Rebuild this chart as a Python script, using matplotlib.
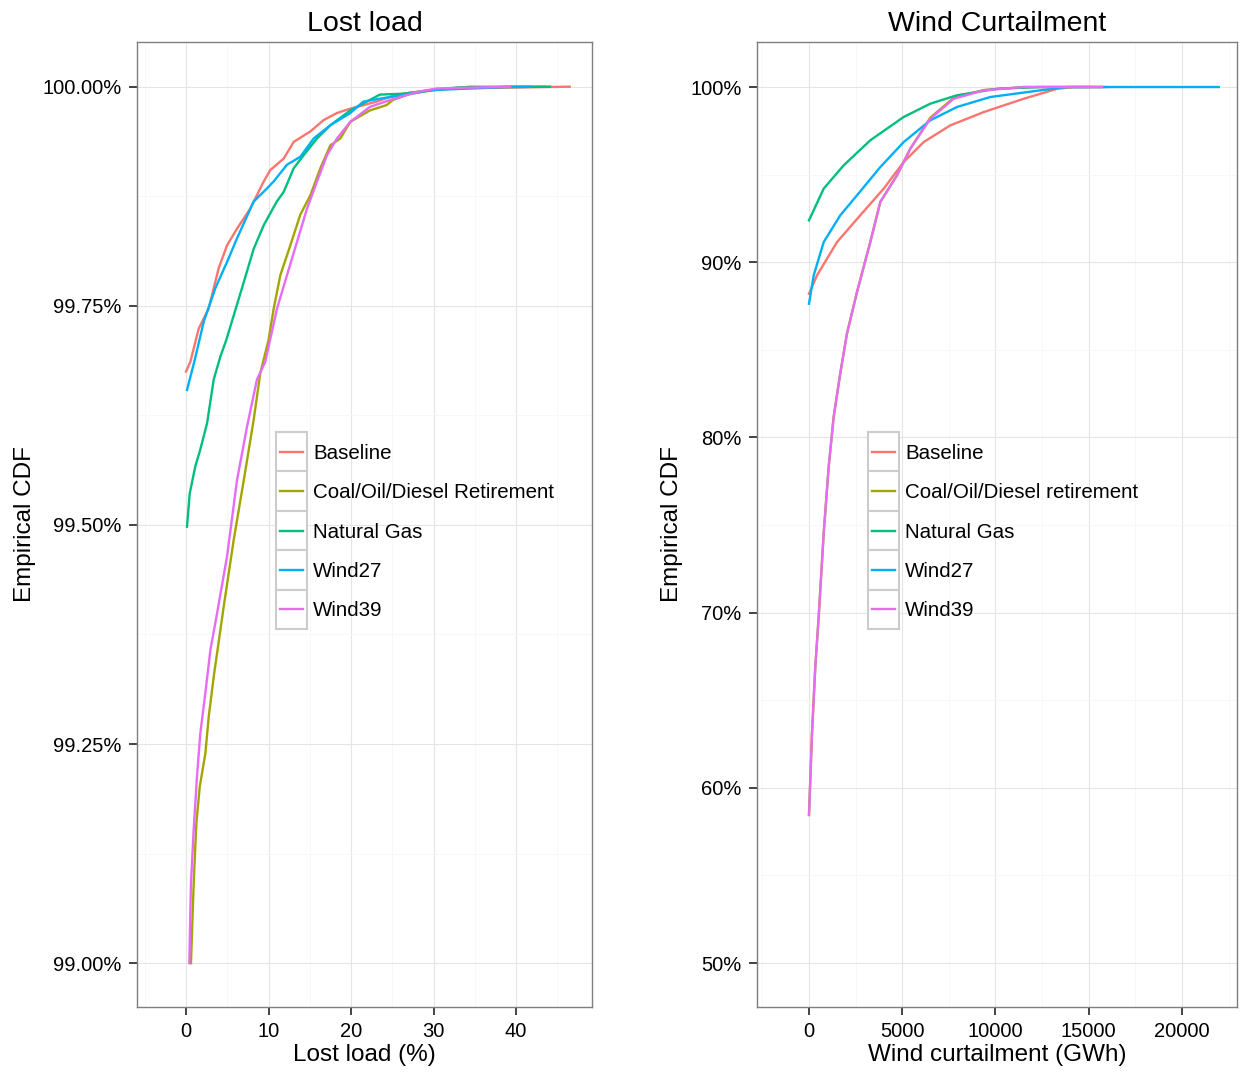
import matplotlib
matplotlib.use("Agg")
import matplotlib.pyplot as plt
from matplotlib.patches import Rectangle
from matplotlib.lines import Line2D
import numpy as np

plt.rcParams['font.family'] = ['Liberation Sans', 'DejaVu Sans']

# series names and ggplot default hue colours
names_left = ['Baseline', 'Coal/Oil/Diesel Retirement', 'Natural Gas', 'Wind27', 'Wind39']
names_right = ['Baseline', 'Coal/Oil/Diesel retirement', 'Natural Gas', 'Wind27', 'Wind39']
colors = ['#F8766D', '#A3A500', '#00BF7D', '#00B0F6', '#E76BF3']

# ---- Lost load ECDF (x = lost load %, y = cumulative %) ----
ll_base_x = [0, 0.52, 1.54, 2.75, 3.96, 4.97, 6.18, 7.79, 9.42, 10.22, 11.84, 13.05, 15.07,
             16.69, 18.3, 19.92, 23.1, 25.5, 29.6, 32.0, 46.5]
ll_base_y = [99.675, 99.686, 99.724, 99.747, 99.793, 99.819, 99.838, 99.861, 99.892, 99.905,
             99.918, 99.937, 99.949, 99.962, 99.970, 99.975, 99.983, 99.991, 99.996, 99.998, 100.0]

ll_coal_x = [0.6, 0.93, 1.25, 1.66, 2.34, 2.75, 3.36, 4.57, 5.78, 7.0, 8.2, 9.0, 10.0, 10.63,
             11.43, 12.64, 13.85, 15.07, 16.28, 17.49, 18.7, 19.92, 22.3, 24.3, 25.1, 27.2,
             30.0, 34.4, 43.5]
ll_coal_y = [99.0, 99.091, 99.159, 99.201, 99.239, 99.281, 99.327, 99.407, 99.483, 99.551,
             99.620, 99.673, 99.711, 99.747, 99.785, 99.819, 99.854, 99.876, 99.907, 99.933,
             99.941, 99.960, 99.973, 99.979, 99.985, 99.992, 99.996, 100.0, 100.0]

ll_gas_x = [0.12, 0.45, 1.13, 1.73, 2.55, 3.36, 4.16, 4.88, 5.78, 7.0, 8.2, 9.42, 11.0, 11.84,
            13.05, 14.27, 15.88, 17.49, 19.92, 21.5, 23.5, 26.3, 29.6, 32.8, 44.1]
ll_gas_y = [99.498, 99.536, 99.567, 99.586, 99.616, 99.666, 99.692, 99.711, 99.739, 99.777,
            99.815, 99.842, 99.869, 99.880, 99.907, 99.922, 99.941, 99.956, 99.973, 99.981,
            99.991, 99.992, 99.996, 99.999, 100.0]

ll_w27_x = [0.12, 1.0, 2.15, 3.55, 4.97, 6.18, 8.2, 9.82, 10.63, 12.24, 13.85, 15.48, 17.49,
            19.92, 21.5, 23.9, 26.75, 29.6, 39.3, 41.7]
ll_w27_y = [99.654, 99.686, 99.732, 99.770, 99.800, 99.827, 99.869, 99.884, 99.892, 99.911,
            99.920, 99.941, 99.956, 99.970, 99.983, 99.987, 99.991, 99.996, 100.0, 100.0]

ll_w39_x = [0.4, 0.6, 0.93, 1.33, 1.73, 2.34, 2.95, 3.76, 4.97, 6.18, 7.39, 8.6, 9.6, 11.03,
            12.24, 13.45, 14.67, 15.88, 17.09, 18.3, 19.92, 22.3, 24.8, 28.0, 30.4, 39.3]
ll_w39_y = [99.0, 99.091, 99.152, 99.213, 99.262, 99.308, 99.357, 99.399, 99.464, 99.551,
            99.612, 99.666, 99.686, 99.747, 99.785, 99.823, 99.861, 99.892, 99.922, 99.941,
            99.960, 99.977, 99.985, 99.994, 99.998, 100.0]

# ---- Wind curtailment ECDF (x = GWh, y = cumulative %) ----
wc_base_x = [0, 429, 1501, 2751, 4005, 5078, 6150, 7576, 9367, 11512, 13298, 14193, 16000]
wc_base_y = [88.20, 89.25, 91.15, 92.68, 94.20, 95.72, 96.86, 97.81, 98.57, 99.33, 99.90, 100.0, 100.0]

wc_coal_x = [0, 161, 338, 520, 788, 1056, 1324, 1678, 2038, 2574, 3287, 3823, 4718, 5432,
             6504, 7759, 9367, 11512, 15700]
wc_coal_y = [58.45, 63.11, 66.91, 69.77, 74.53, 78.33, 81.18, 83.66, 85.94, 88.30, 91.15,
             93.44, 94.96, 96.48, 98.25, 99.38, 99.83, 100.0, 100.0]

wc_gas_x = [0, 788, 1860, 3287, 5078, 6504, 7936, 10080, 12400, 15000]
wc_gas_y = [92.39, 94.20, 95.53, 96.96, 98.29, 99.05, 99.53, 99.90, 100.0, 100.0]

wc_w27_x = [0, 252, 788, 1678, 2574, 3823, 5078, 6504, 7936, 9721, 12402, 13834, 21970]
wc_w27_y = [87.63, 89.25, 91.15, 92.68, 93.82, 95.43, 96.86, 98.10, 98.86, 99.43, 99.81, 100.0, 100.0]

wc_w39_x = [0, 161, 338, 520, 788, 1056, 1324, 1678, 2038, 2574, 3287, 3823, 4718, 5432,
            6504, 7759, 9367, 11512, 15710]
wc_w39_y = [58.45, 63.11, 66.91, 69.77, 74.53, 78.33, 81.18, 83.66, 85.94, 88.30, 91.15,
            93.44, 94.96, 96.48, 98.19, 99.33, 99.81, 100.0, 100.0]

left_series = [(ll_base_x, ll_base_y), (ll_coal_x, ll_coal_y), (ll_gas_x, ll_gas_y),
               (ll_w27_x, ll_w27_y), (ll_w39_x, ll_w39_y)]
right_series = [(wc_base_x, wc_base_y), (wc_coal_x, wc_coal_y), (wc_gas_x, wc_gas_y),
                (wc_w27_x, wc_w27_y), (wc_w39_x, wc_w39_y)]

ll_yticks = [99.0, 99.25, 99.5, 99.75, 100.0]
ll_xticks = [0, 10, 20, 30, 40]
wc_yticks = [50, 60, 70, 80, 90, 100]
wc_xticks = [0, 5000, 10000, 15000, 20000]

W, H = 1243, 1074
fig = plt.figure(figsize=(W / 100, H / 100), dpi=100)


def px_axes(x0, y0, x1, y1):
    return fig.add_axes([x0 / W, 1 - y1 / H, (x1 - x0) / W, (y1 - y0) / H])


def style(ax, xt, yt, xminor, yminor, ylabels, title, xlabel):
    ax.set_xticks(xt)
    ax.set_yticks(yt)
    ax.set_xticks(xminor, minor=True)
    ax.set_yticks(yminor, minor=True)
    ax.set_yticklabels(ylabels)
    ax.grid(which='major', color='#E5E5E5', linewidth=0.8)
    ax.grid(which='minor', color='#F7F7F7', linewidth=0.6)
    ax.set_axisbelow(True)
    for s in ax.spines.values():
        s.set_color('#7F7F7F')
        s.set_linewidth(1.0)
    ax.tick_params(which='major', length=6, width=1.2, color='#222222',
                   labelsize=14.5, labelcolor='black', pad=5)
    ax.tick_params(which='minor', length=0)
    ax.set_title(title, fontsize=20.5, pad=8)
    ax.set_xlabel(xlabel, fontsize=17.5, labelpad=2)
    ax.set_ylabel('Empirical CDF', fontsize=17.5, labelpad=5)


def legend(labels, x0, y0):
    # ggplot-like legend: grey key boxes with coloured line segments
    row = 39.4
    kw = 31
    for i, (lab, c) in enumerate(zip(labels, colors)):
        top = y0 + i * row
        fig.add_artist(Rectangle((x0 / W, 1 - (top + row) / H), kw / W, row / H,
                                 transform=fig.transFigure, facecolor='white',
                                 edgecolor='#CCCCCC', linewidth=1.5))
        yc = 1 - (top + row / 2) / H
        fig.add_artist(Line2D([(x0 + 4) / W, (x0 + kw - 4) / W], [yc, yc],
                              transform=fig.transFigure, color=c, linewidth=1.7))
        fig.text((x0 + kw + 6) / W, yc - 1.5 / H, lab, fontsize=14.8, va='center', ha='left')


# left panel
ax1 = px_axes(137, 42, 592, 1007)
for (x, y), c in zip(left_series, colors):
    ax1.plot(x, y, color=c, linewidth=1.7)
ax1.set_xlim(-5.94, 49.2)
ax1.set_ylim(98.95, 100.051)
style(ax1, ll_xticks, ll_yticks, [-5, 5, 15, 25, 35, 45], [99.125, 99.375, 99.625, 99.875],
      ['%.2f%%' % v for v in ll_yticks], 'Lost load', 'Lost load (%)')
ax1.set_xticklabels([str(v) for v in ll_xticks])

# right panel
ax2 = px_axes(757, 42, 1237, 1007)
for (x, y), c in zip(right_series, colors):
    ax2.plot(x, y, color=c, linewidth=1.7)
ax2.set_xlim(-2788, 22950)
ax2.set_ylim(47.49, 102.57)
style(ax2, wc_xticks, wc_yticks, [-2500, 2500, 7500, 12500, 17500, 22500],
      [55, 65, 75, 85, 95], ['%d%%' % v for v in wc_yticks], 'Wind Curtailment',
      'Wind curtailment (GWh)')
ax2.set_xticklabels([str(v) for v in wc_xticks])

legend(names_left, 276, 432)
legend(names_right, 868, 432)

fig.savefig('out.png', dpi=100)
